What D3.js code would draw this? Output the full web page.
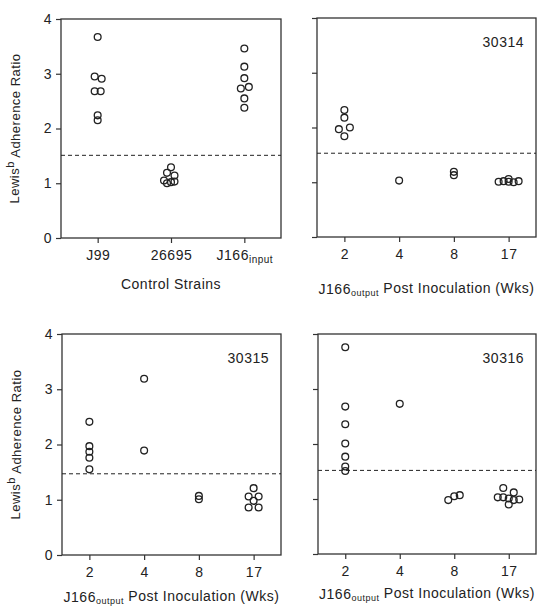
<!DOCTYPE html>
<html>
<head>
<meta charset="utf-8">
<script src="https://cdn.jsdelivr.net/npm/d3@7"></script>
<style>
  body { margin: 0; background: #fff; }
  text { font-family: "Liberation Sans", Arial, sans-serif; fill: #222; letter-spacing: 0.5px; }
</style>
</head>
<body>
<script>

// ---- data ----
const controlCats = ['J99', '26695', 'J166'];
const controlSubs = ['', '', 'input'];
const controlValues = [
  [3.67, 2.95, 2.91, 2.68, 2.68, 2.24, 2.15],
  [1.29, 1.19, 1.14, 1.05, 1.02, 1.00, 1.03],
  [3.46, 3.13, 2.92, 2.73, 2.76, 2.55, 2.38]
];
// horizontal jitter slot of each point (as in the figure)
const controlSlots = [
  [0, -0.6, 0.8, -0.6, 0.6, 0, 0],
  [0, -0.8, 0.7, -1.4, 0, -0.8, 0.7],
  [0, 0, 0, -0.7, 0.9, 0, 0]
];

const weeks = ['2', '4', '8', '17'];

const m30314 = [
  [2.32, 2.18, 1.97, 2.00, 1.84],
  [1.03],
  [1.19, 1.13],
  [1.01, 1.02, 1.01, 1.00, 1.02, 1.06]
];
const s30314 = [
  [0, 0, -1.1, 1.1, 0],
  [0],
  [0, 0],
  [-2, -1, 0, 1, 2, 0]
];

const m30315 = [
  [2.41, 1.97, 1.87, 1.76, 1.55],
  [3.19, 1.89],
  [1.07, 1.01],
  [1.21, 1.06, 1.06, 0.98, 0.86, 0.86]
];
const s30315 = [
  [0, 0, 0, 0, 0],
  [0, 0],
  [0, 0],
  [0, -1, 1, 0, -1, 1]
];

const m30316 = [
  [3.76, 2.68, 2.36, 2.01, 1.77, 1.59, 1.51],
  [2.73],
  [0.98, 1.05, 1.07],
  [1.20, 1.12, 1.03, 1.03, 1.01, 0.98, 0.99, 0.90]
];
const s30316 = [
  [0, 0, 0, 0, 0, 0, 0],
  [0],
  [-1.2, 0, 1.1],
  [-1.1, 1, -2.2, -1.1, 0, 1, 2.1, 0]
];

const cutoffs = [1.51, 1.53, 1.47, 1.52];
const yTicks = [0, 1, 2, 3, 4];

// ---- layout ----
const width = 538;
const height = 608;
const slotPx = 5;

const svg = d3.select('body')
  .append('svg')
  .attr('width', width)
  .attr('height', height);

const panels = [
  { x: 61, y: 19, w: 220, h: 219, cats: controlCats, subs: controlSubs, vals: controlValues, slots: controlSlots,
    cutoff: cutoffs[0], tag: null, yLabels: true, title: 'control', titleY: 289 },
  { x: 317, y: 18, w: 219, h: 219, cats: weeks, subs: null, vals: m30314, slots: s30314,
    cutoff: cutoffs[1], tag: '30314', yLabels: false, title: 'weeks', titleY: 294 },
  { x: 62, y: 334, w: 219, h: 221, cats: weeks, subs: null, vals: m30315, slots: s30315,
    cutoff: cutoffs[2], tag: '30315', yLabels: true, title: 'weeks', titleY: 602 },
  { x: 318, y: 334, w: 218, h: 220, cats: weeks, subs: null, vals: m30316, slots: s30316,
    cutoff: cutoffs[3], tag: '30316', yLabels: false, title: 'weeks', titleY: 599 }
];

panels.forEach(p => {
  const g = svg.append('g').attr('transform', `translate(${p.x},${p.y})`);

  const x = d3.scalePoint().domain(p.cats).range([0, p.w]).padding(0.5);
  const y = d3.scaleLinear().domain([0, 4]).range([p.h, 0]);

  // y axis
  const ya = g.append('g')
    .call(d3.axisLeft(y).tickValues(yTicks).tickSize(5).tickSizeOuter(0).tickPadding(4)
      .tickFormat(p.yLabels ? d3.format('d') : ''));
  ya.select('.domain').remove();
  ya.selectAll('line').attr('stroke', '#333').attr('stroke-width', 1.2);
  ya.selectAll('text').attr('font-size', 14).style('fill', '#222');

  // x axis
  const xa = g.append('g')
    .attr('transform', `translate(0,${p.h})`)
    .call(d3.axisBottom(x).tickSize(5).tickSizeOuter(0).tickPadding(7));
  xa.select('.domain').remove();
  xa.selectAll('line').attr('stroke', '#333').attr('stroke-width', 1.2);
  xa.selectAll('text').attr('font-size', 14).style('fill', '#222');
  if (p.subs) {
    xa.selectAll('.tick text').each(function (d, i) {
      if (p.subs[i]) {
        d3.select(this).append('tspan')
          .attr('font-size', 10)
          .attr('dy', '0.3em')
          .text(p.subs[i]);
      }
    });
  }

  // frame
  g.append('rect')
    .attr('width', p.w)
    .attr('height', p.h)
    .attr('fill', 'none')
    .attr('stroke', '#333')
    .attr('stroke-width', 1.3);

  // cutoff line
  g.append('line')
    .attr('x1', 0)
    .attr('x2', p.w)
    .attr('y1', y(p.cutoff))
    .attr('y2', y(p.cutoff))
    .attr('stroke', '#222')
    .attr('stroke-width', 1)
    .attr('stroke-dasharray', '4,3');

  // points
  p.cats.forEach((c, i) => {
    p.vals[i].forEach((v, j) => {
      g.append('circle')
        .attr('cx', x(c) + p.slots[i][j] * slotPx)
        .attr('cy', y(v))
        .attr('r', 3.4)
        .attr('fill', 'none')
        .attr('stroke', '#222')
        .attr('stroke-width', 1.3);
    });
  });

  // mouse tag
  if (p.tag) {
    g.append('text')
      .attr('x', p.w - 12)
      .attr('y', 29)
      .attr('text-anchor', 'end')
      .attr('font-size', 14)
      .text(p.tag);
  }

  // y title
  if (p.yLabels) {
    const yt = svg.append('text')
      .attr('transform', `translate(${p.x - 42},${p.y + p.h / 2}) rotate(-90)`)
      .attr('text-anchor', 'middle')
      .attr('font-size', 13);
    yt.append('tspan').text('Lewis');
    yt.append('tspan').attr('font-size', 11).attr('dy', '-0.45em').text('b');
    yt.append('tspan').attr('dy', '0.45em').text(' Adherence Ratio');
  }

  // x title
  const xt = svg.append('text')
    .attr('x', p.x + p.w / 2)
    .attr('y', p.titleY)
    .attr('text-anchor', 'middle')
    .attr('font-size', 14);
  if (p.title === 'control') {
    xt.text('Control Strains');
  } else {
    xt.append('tspan').text('J166');
    xt.append('tspan').attr('font-size', 9).attr('dy', '0.25em').text('output');
    xt.append('tspan').attr('dy', '-0.25em').text(' Post Inoculation (Wks)');
  }
});

</script>
</body>
</html>
